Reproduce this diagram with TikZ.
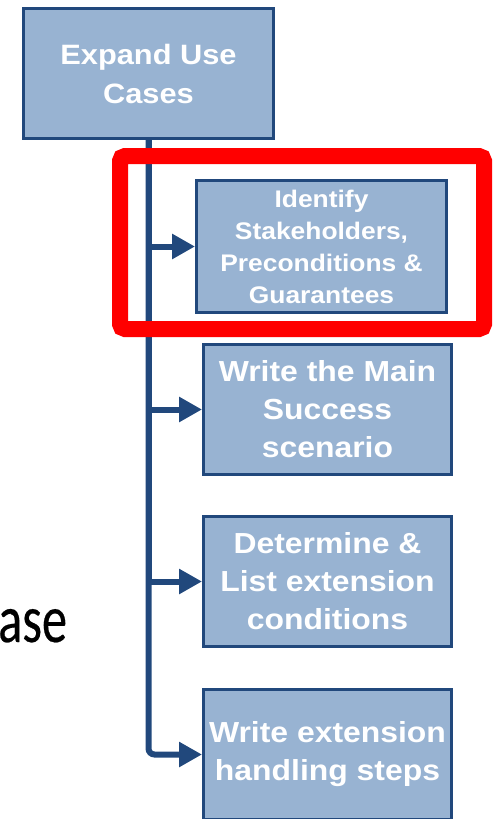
\documentclass[tikz,border=0pt]{standalone}
\usepackage{fontspec}
\setmainfont{Liberation Sans}[FakeStretch=1.1]
\newfontfamily\slidefont{Carlito}[FakeStretch=0.74,FakeBold=0.3]
\usetikzlibrary{arrows.meta}
\definecolor{boxfill}{RGB}{152,179,210}
\definecolor{boxline}{RGB}{33,72,124}
\definecolor{markred}{RGB}{255,0,0}

\begin{document}
\begin{tikzpicture}[x=1pt,y=-1pt,
	task/.style={draw=boxline,line width=3pt,fill=boxfill,text=white,align=center,
		inner sep=0pt,minimum width=248pt,minimum height=130pt,
		font=\bfseries\fontsize{29}{38}\selectfont},
	head/.style={task,minimum width=250pt,minimum height=130pt,font=\bfseries\fontsize{28}{39}\selectfont},
	small/.style={task,minimum width=250pt,minimum height=132pt,font=\bfseries\fontsize{24}{32}\selectfont},
	link/.style={boxline,line width=6pt,-{Triangle[length=23pt,width=24pt]}},
	highlight/.style={markred,line width=16pt,rounded corners=5pt}]

\useasboundingbox (0,0) rectangle (494,819);

\node[anchor=base west,inner sep=0pt,font=\slidefont\fontsize{68}{80}\selectfont] (cut) at (-2,642) {ase};

\node[head] (expand) at (148.5,73.5) {Expand Use\\Cases};
\node[small] (stake) at (321.5,246.5) {Identify\\Stakeholders,\\Preconditions \&\\Guarantees};
\node[task] (main) at (327.5,409.5) {Write the Main\\Success\\scenario};
\node[task] (ext) at (327.5,581.5) {Determine \&\\List extension\\conditions};
\node[task] (handle) at (327.5,754.5) {Write extension\\handling steps};

\draw[link] (expand.south) |- (stake.west);
\draw[link] (expand.south) |- (main.west);
\draw[link] (expand.south) |- (ext.west);
\draw[link,rounded corners=6pt] (expand.south) |- (handle.west);

\draw[highlight] (120,156) rectangle (484,329);

\end{tikzpicture}
\end{document}
